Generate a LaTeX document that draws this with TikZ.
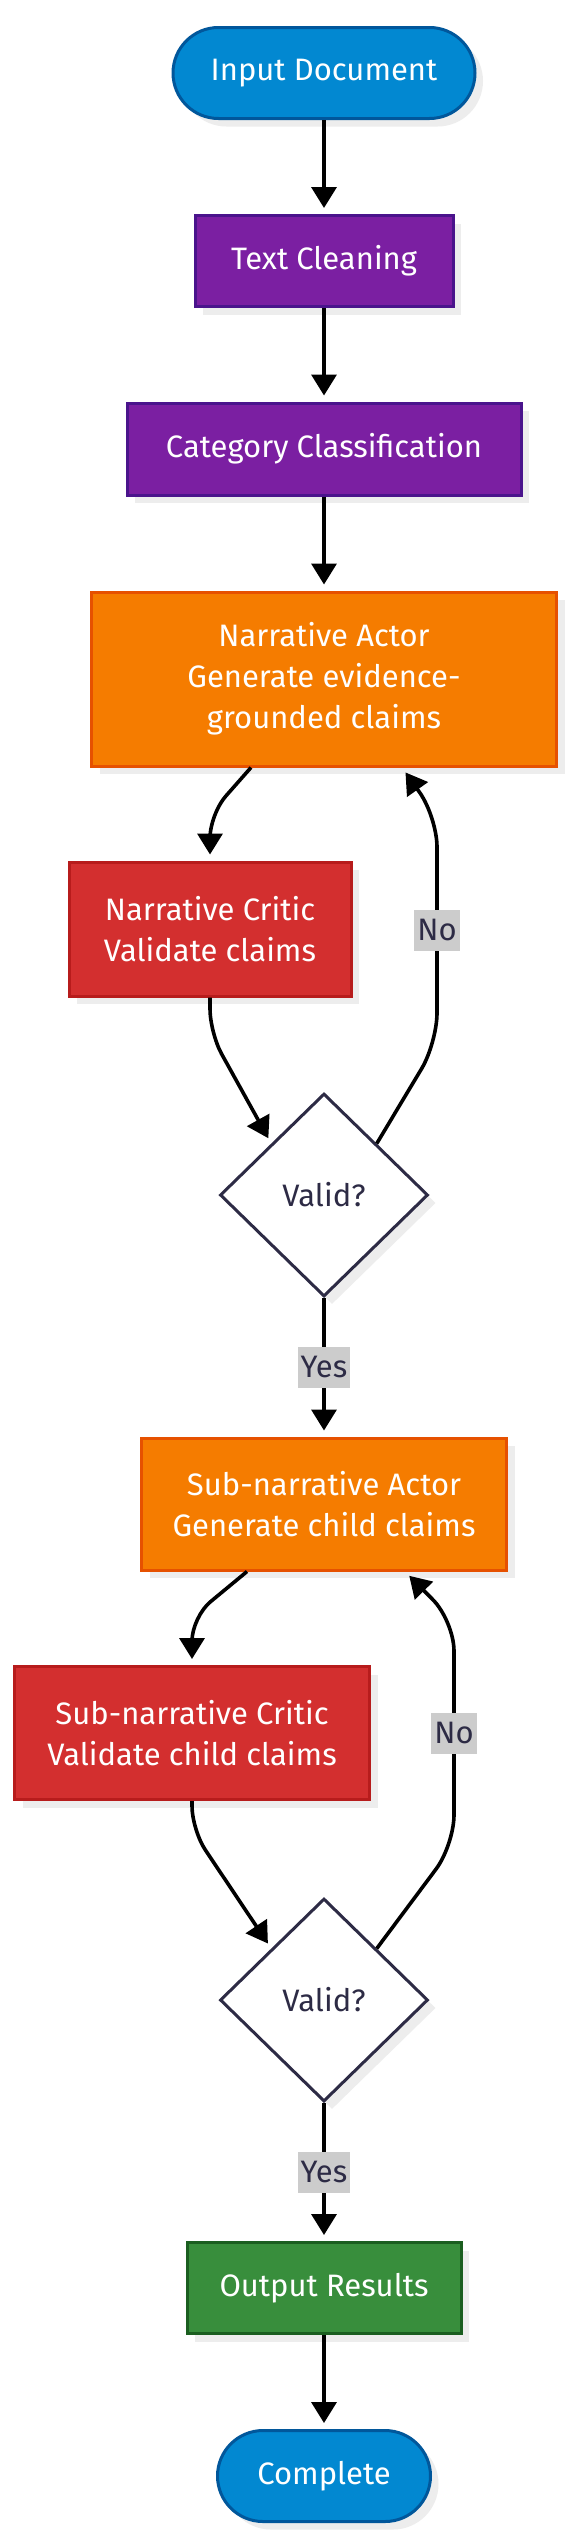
\documentclass[tikz,border=0pt]{standalone}
\usepackage{fontspec}
\setmainfont{Fira Sans}
\usetikzlibrary{arrows.meta,shapes.geometric,shadows}
\definecolor{termfill}{HTML}{0288D1}
\definecolor{termline}{HTML}{01579B}
\definecolor{prepfill}{HTML}{7B1FA2}
\definecolor{prepline}{HTML}{4A148C}
\definecolor{actfill}{HTML}{F57C00}
\definecolor{actline}{HTML}{E65100}
\definecolor{critfill}{HTML}{D32F2F}
\definecolor{critline}{HTML}{B71C1C}
\definecolor{outfill}{HTML}{388E3C}
\definecolor{outline}{HTML}{1B5E20}
\definecolor{decline}{HTML}{2D2B45}
\definecolor{labelfill}{HTML}{CCCCCC}

\begin{document}
\begin{tikzpicture}[x=0.5pt, y=-0.5pt, every node/.style={font=\fontsize{15.5}{20.5}\selectfont, align=center}]
        \tikzset{boxshadow/.style={drop shadow={shadow xshift=4pt, shadow yshift=-4pt, fill=black!7, opacity=1}}}
        \tikzset{stepbox/.style={rectangle, line width=1.5pt, text=white, inner sep=0pt, boxshadow}}
        \tikzset{terminal/.style={stepbox, fill=termfill, draw=termline, rounded corners=22.75pt}}
        \tikzset{decision/.style={diamond, aspect=1, fill=white, draw=decline, line width=1.5pt, text=decline, inner sep=0pt, minimum width=104pt, minimum height=101.5pt, boxshadow}}
        \tikzset{edgelabel/.style={rectangle, sharp corners, fill=labelfill, text=decline, inner xsep=1.5pt, inner ysep=0pt, minimum height=20.5pt}}
        \tikzset{flowline/.style={->, >={Triangle[length=10.5pt, width=12.5pt]}, line width=1.8pt, shorten >=3pt}}
        \path[use as bounding box, fill=white] (0,0) rectangle (572,2548);
        % preprocessing
        \node[terminal, minimum width=151pt, minimum height=45.5pt] (inp) at (324,73) {Input Document};
        \node[stepbox, fill=prepfill, draw=prepline, minimum width=129pt, minimum height=45.5pt] (clean) at (324,261) {Text Cleaning};
        \node[stepbox, fill=prepfill, draw=prepline, minimum width=197pt, minimum height=46pt] (cat) at (324,449) {Category Classification};
        % narrative loop
        \node[stepbox, fill=actfill, draw=actline, minimum width=232.5pt, minimum height=87pt] (actor) at (324,679) {Narrative Actor\\Generate evidence-\\grounded claims};
        \node[stepbox, fill=critfill, draw=critline, minimum width=141pt, minimum height=67pt] (critic) at (210,929) {Narrative Critic\\Validate claims};
        \node[decision] (valid1) at (324,1195) {Valid?};
        % sub-narrative loop
        \node[stepbox, fill=actfill, draw=actline, minimum width=182.5pt, minimum height=66pt] (subactor) at (324,1504) {Sub-narrative Actor\\Generate child claims};
        \node[stepbox, fill=critfill, draw=critline, minimum width=177.5pt, minimum height=66.5pt] (subcritic) at (192,1733) {Sub-narrative Critic\\Validate child claims};
        \node[decision] (valid2) at (324,2000) {Valid?};
        % output
        \node[stepbox, fill=outfill, draw=outline, minimum width=137pt, minimum height=45.5pt] (out) at (324,2288) {Output Results};
        \node[terminal, minimum width=106.5pt, minimum height=45.5pt] (done) at (324,2476) {Complete};
        % bends
        \coordinate (a1) at (210,814);
        \coordinate (a2) at (210,1033);
        \coordinate (a3) at (437,1043);
        \coordinate (a4) at (437,817);
        \coordinate (b1) at (192,1617);
        \coordinate (b2) at (192,1830);
        \coordinate (b3) at (454,1845);
        \coordinate (b4) at (454,1621);
        % edges
        \path (inp) edge [flowline] (clean);
        \path (clean) edge [flowline] (cat);
        \path (cat) edge [flowline] (actor);
        \draw[flowline, rounded corners=12pt] ([xshift=-36.5pt]actor.south) -- (a1) -- (critic);
        \draw[flowline, rounded corners=12pt] (critic) -- (a2) -- (valid1.north west);
        \draw[flowline, rounded corners=15pt] (valid1.north east) -- (a3) -- node[edgelabel] {No} (a4) -- ([xshift=39pt]actor.south);
        \path (valid1) edge [flowline] node[edgelabel] {Yes} (subactor);
        \draw[flowline, rounded corners=12pt] ([xshift=-38.5pt]subactor.south) -- (b1) -- (subcritic);
        \draw[flowline, rounded corners=12pt] (subcritic) -- (b2) -- (valid2.north west);
        \draw[flowline, rounded corners=15pt] (valid2.north east) -- (b3) -- node[edgelabel] {No} (b4) -- ([xshift=40.5pt]subactor.south);
        \path (valid2) edge [flowline] node[edgelabel] {Yes} (out);
        \path (out) edge [flowline] (done);
      \end{tikzpicture}
\end{document}
